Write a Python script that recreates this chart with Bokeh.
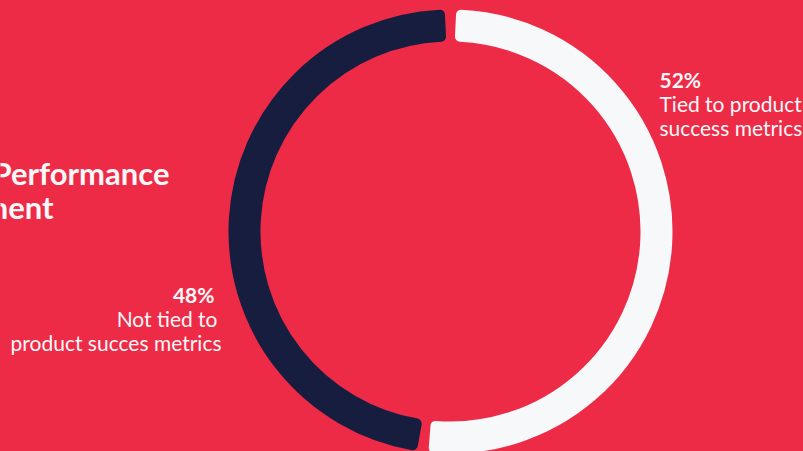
import math
from bokeh.plotting import figure
from bokeh.models import Range1d, ColumnDataSource, GlobalInlineStyleSheet
from bokeh.core.properties import value
from bokeh.embed import file_html
from bokeh.resources import INLINE

# ---- data ----
categories = ["Tied to product success metrics", "Not tied to product succes metrics"]
percent = [52, 48]
pct_labels = ["52%", "48%"]
right_lines = ["Tied to product", "success metrics"]
left_lines = ["Not tied to", "product succes metrics"]
title_lines = ["Product Performance", "Measurement"]

# ---- style ----
W, H = 803, 451
BG = "#EE2B47"
COLORS = ["#F7F8FA", "#161D3F"]
TXT = "#FAF7F8"
FONT = value("Lato")

cx, cy_img = 450, 231
r_in, r_out = 190, 222
corner = 5
half_gap_px = 5

p = figure(width=W, height=H, output_backend="svg", toolbar_location=None,
           x_range=Range1d(0, W), y_range=Range1d(0, H),
           x_axis_type=None, y_axis_type=None, min_border=0)
p.background_fill_color = BG
p.border_fill_color = BG
p.outline_line_color = None
p.grid.visible = False
p.stylesheets.append(GlobalInlineStyleSheet(css=f"html,body{{margin:0;padding:0;background:{BG};overflow:hidden;}}"))

def Y(y_img):
    return H - y_img

# angles: start at top, first slice clockwise
total = sum(percent)
starts, ends = [], []
a = math.pi / 2
r_mid = (r_in + r_out) / 2
inset = (half_gap_px + corner) / r_mid
for v in percent:
    sweep = 2 * math.pi * v / total
    ends.append(a - inset)
    starts.append(a - sweep + inset)
    a -= sweep

src = ColumnDataSource(dict(x=[cx] * len(percent), y=[Y(cy_img)] * len(percent),
                            start=starts, end=ends, color=COLORS, cat=categories))
p.annular_wedge(x="x", y="y", inner_radius=r_in + corner, outer_radius=r_out - corner,
                start_angle="start", end_angle="end", direction="anticlock",
                fill_color="color", line_color="color", line_width=2 * corner,
                line_join="round", source=src)

LBL = "21px"
# right labels (52%)
p.text(x=[659], y=[Y(79)], text=[pct_labels[0]], text_font=FONT, text_font_size=LBL,
       text_font_style="bold", text_color=TXT, text_align="left", text_baseline="alphabetic")
p.text(x=[659, 659], y=[Y(103), Y(127)], text=right_lines, text_font=FONT, text_font_size=LBL,
       text_color=TXT, text_align="left", text_baseline="alphabetic")

# left labels (48%)
p.text(x=[214], y=[Y(294)], text=[pct_labels[1]], text_font=FONT, text_font_size=LBL,
       text_font_style="bold", text_color=TXT, text_align="right", text_baseline="alphabetic")
p.text(x=[217, 221], y=[Y(318), Y(342)], text=left_lines, text_font=FONT, text_font_size=LBL,
       text_color=TXT, text_align="right", text_baseline="alphabetic")

# title (cropped at left edge)
p.text(x=[169, 53], y=[Y(172), Y(206)], text=title_lines, text_font=FONT, text_font_size="31px",
       text_font_style="bold", text_color=TXT, text_align="right", text_baseline="alphabetic")

open("out.html", "w").write(file_html(p, INLINE))
